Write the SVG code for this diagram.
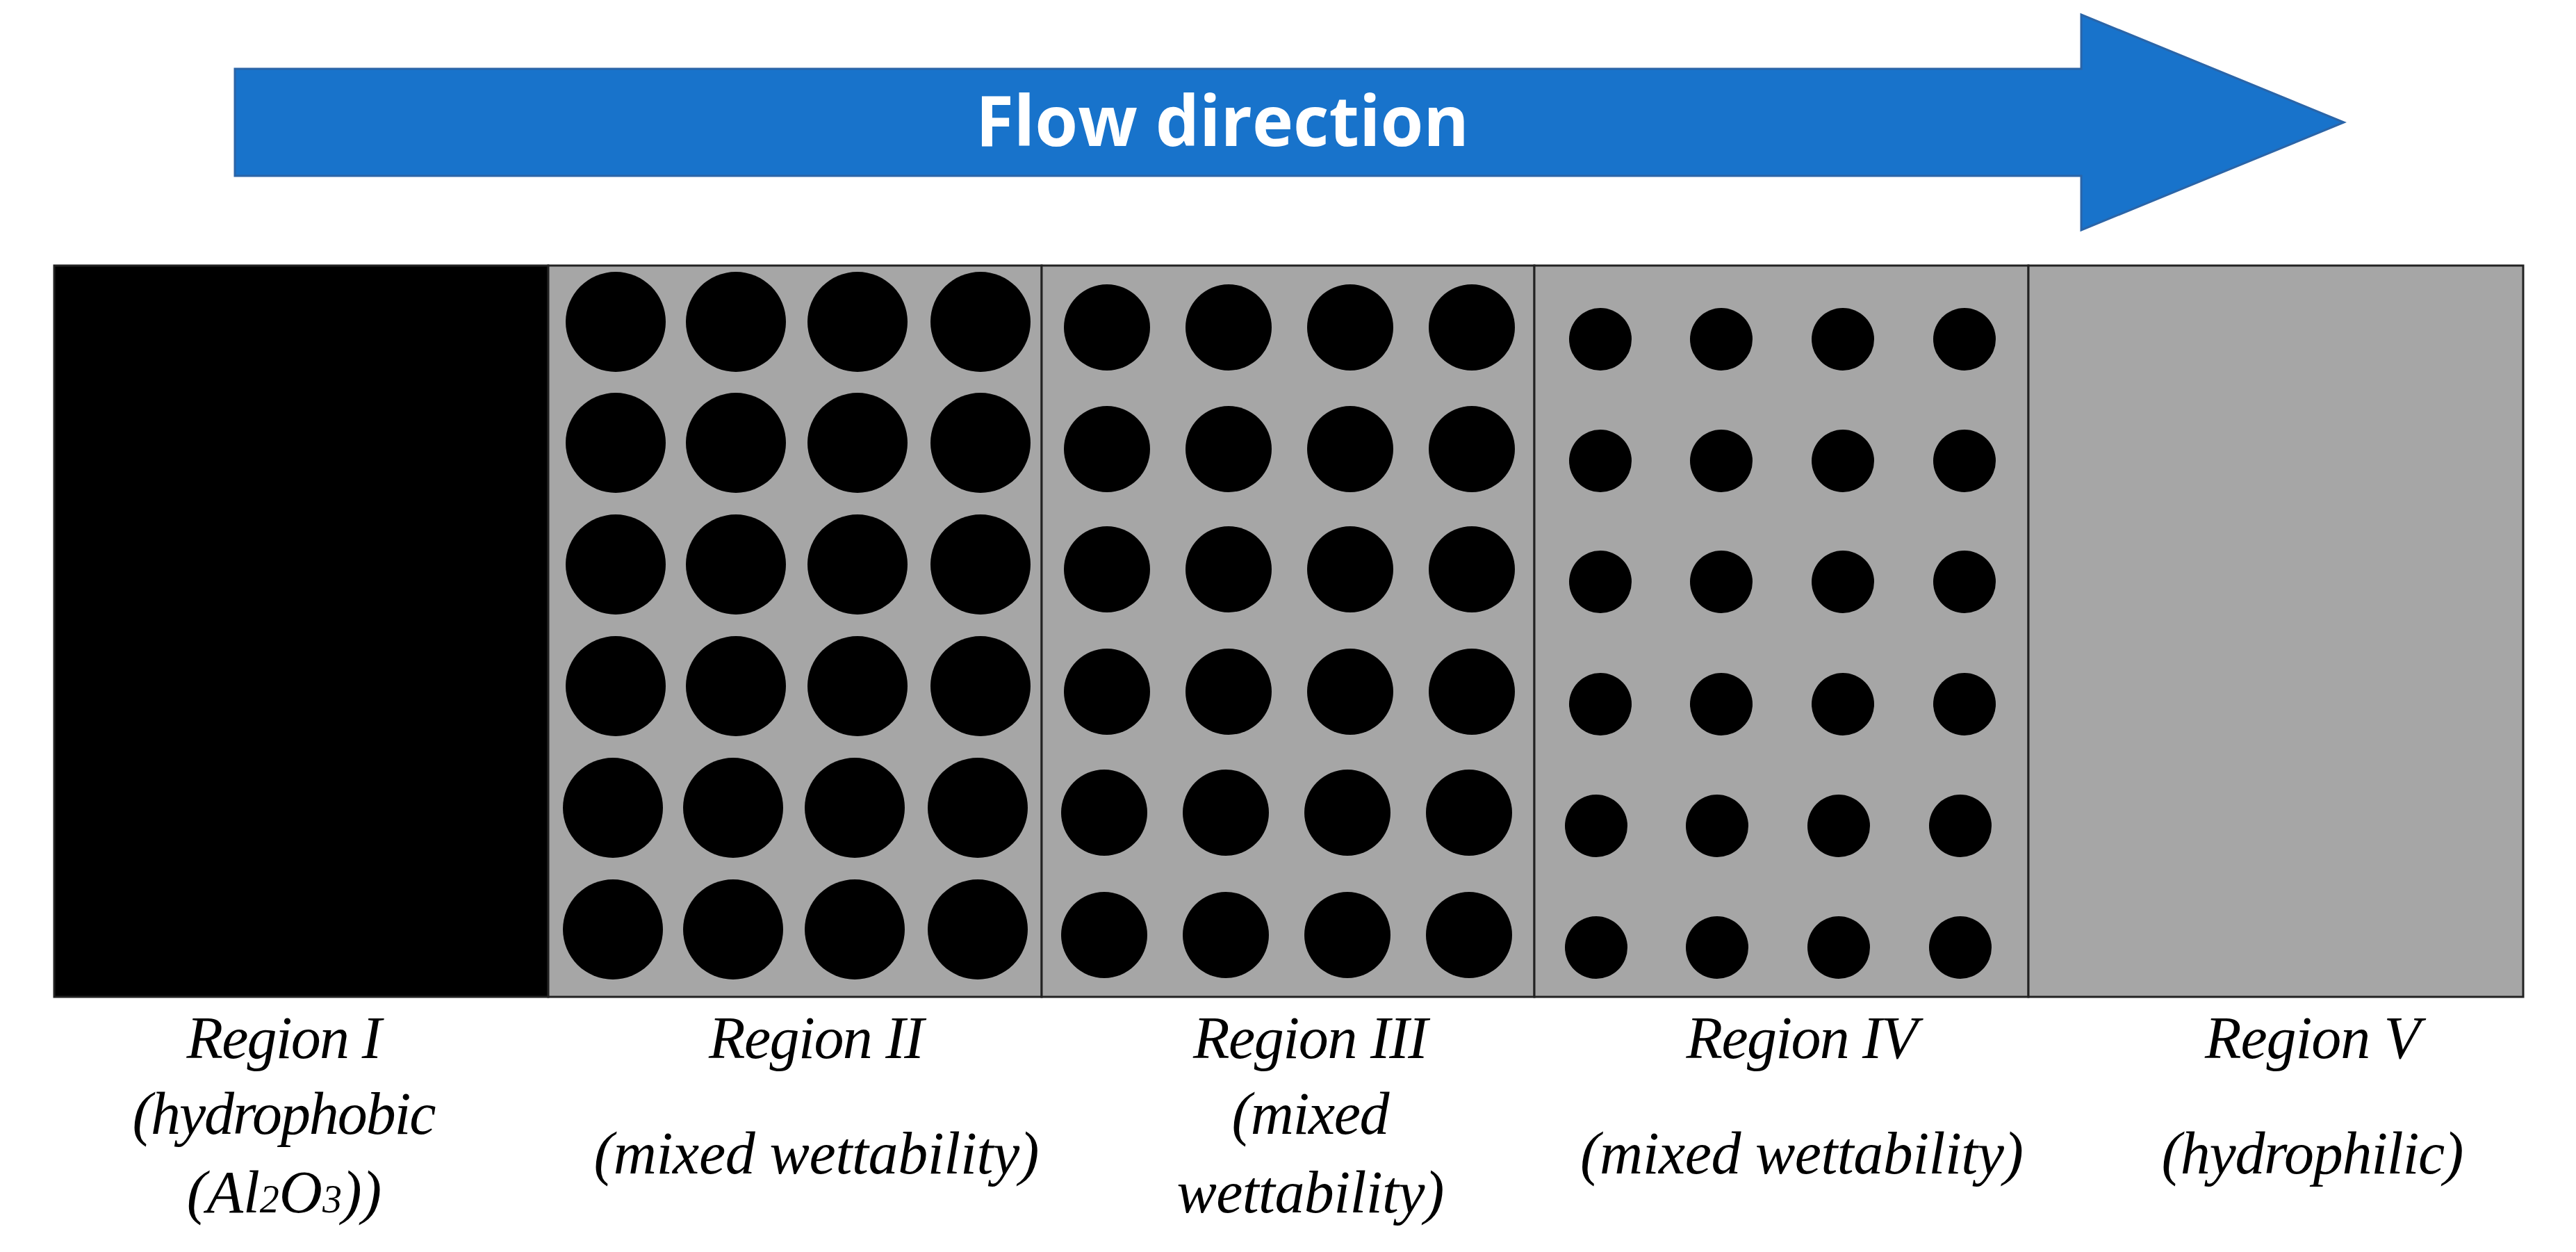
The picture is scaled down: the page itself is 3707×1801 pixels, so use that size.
<svg xmlns="http://www.w3.org/2000/svg" width="3707" height="1801" viewBox="0 0 3707 1801">
<style>
.lbl{font-family:"Liberation Serif",serif;font-style:italic;font-size:86px;fill:#000;text-anchor:middle}
.d{fill:#000}
.reg{stroke:#222;stroke-width:3}
</style>
<rect width="3707" height="1801" fill="#fff"/>
<g id="arrow">
<polygon points="338,99 2995,99 2995,21 3373,176 2995,331 2995,253 338,253" fill="#1873cb" stroke="#2b65a8" stroke-width="3"/>
<text x="1759" y="210" font-family="Open Sans,sans-serif" font-weight="bold" font-size="100" fill="#fff" text-anchor="middle">Flow direction</text>
</g>
<g id="region1"><rect class="reg" x="78" y="382" width="711" height="1052" fill="#000"/></g>
<g id="region2"><rect class="reg" x="789" y="382" width="710" height="1052" fill="#a6a6a6"/>
<g class="d">
<circle cx="886" cy="463" r="72"/><circle cx="1059" cy="463" r="72"/><circle cx="1234" cy="463" r="72"/><circle cx="1411" cy="463" r="72"/>
<circle cx="886" cy="637" r="72"/><circle cx="1059" cy="637" r="72"/><circle cx="1234" cy="637" r="72"/><circle cx="1411" cy="637" r="72"/>
<circle cx="886" cy="812" r="72"/><circle cx="1059" cy="812" r="72"/><circle cx="1234" cy="812" r="72"/><circle cx="1411" cy="812" r="72"/>
<circle cx="886" cy="987" r="72"/><circle cx="1059" cy="987" r="72"/><circle cx="1234" cy="987" r="72"/><circle cx="1411" cy="987" r="72"/>
<circle cx="882" cy="1162" r="72"/><circle cx="1055" cy="1162" r="72"/><circle cx="1230" cy="1162" r="72"/><circle cx="1407" cy="1162" r="72"/>
<circle cx="882" cy="1337" r="72"/><circle cx="1055" cy="1337" r="72"/><circle cx="1230" cy="1337" r="72"/><circle cx="1407" cy="1337" r="72"/>
</g></g>
<g id="region3"><rect class="reg" x="1499" y="382" width="709" height="1052" fill="#a6a6a6"/>
<g class="d">
<circle cx="1593" cy="471" r="62"/><circle cx="1768" cy="471" r="62"/><circle cx="1943" cy="471" r="62"/><circle cx="2118" cy="471" r="62"/>
<circle cx="1593" cy="646" r="62"/><circle cx="1768" cy="646" r="62"/><circle cx="1943" cy="646" r="62"/><circle cx="2118" cy="646" r="62"/>
<circle cx="1593" cy="819" r="62"/><circle cx="1768" cy="819" r="62"/><circle cx="1943" cy="819" r="62"/><circle cx="2118" cy="819" r="62"/>
<circle cx="1593" cy="995" r="62"/><circle cx="1768" cy="995" r="62"/><circle cx="1943" cy="995" r="62"/><circle cx="2118" cy="995" r="62"/>
<circle cx="1589" cy="1169" r="62"/><circle cx="1764" cy="1169" r="62"/><circle cx="1939" cy="1169" r="62"/><circle cx="2114" cy="1169" r="62"/>
<circle cx="1589" cy="1345" r="62"/><circle cx="1764" cy="1345" r="62"/><circle cx="1939" cy="1345" r="62"/><circle cx="2114" cy="1345" r="62"/>
</g></g>
<g id="region4"><rect class="reg" x="2208" y="382" width="711" height="1052" fill="#a6a6a6"/>
<g class="d">
<circle cx="2303" cy="488" r="45"/><circle cx="2477" cy="488" r="45"/><circle cx="2652" cy="488" r="45"/><circle cx="2827" cy="488" r="45"/>
<circle cx="2303" cy="663" r="45"/><circle cx="2477" cy="663" r="45"/><circle cx="2652" cy="663" r="45"/><circle cx="2827" cy="663" r="45"/>
<circle cx="2303" cy="837" r="45"/><circle cx="2477" cy="837" r="45"/><circle cx="2652" cy="837" r="45"/><circle cx="2827" cy="837" r="45"/>
<circle cx="2303" cy="1013" r="45"/><circle cx="2477" cy="1013" r="45"/><circle cx="2652" cy="1013" r="45"/><circle cx="2827" cy="1013" r="45"/>
<circle cx="2297" cy="1188" r="45"/><circle cx="2471" cy="1188" r="45"/><circle cx="2646" cy="1188" r="45"/><circle cx="2821" cy="1188" r="45"/>
<circle cx="2297" cy="1363" r="45"/><circle cx="2471" cy="1363" r="45"/><circle cx="2646" cy="1363" r="45"/><circle cx="2821" cy="1363" r="45"/>
</g></g>
<g id="region5"><rect class="reg" x="2919" y="382" width="712" height="1052" fill="#a6a6a6"/></g>
<g id="labels">
<text class="lbl" x="409" y="1522" textLength="281">Region I</text>
<text class="lbl" x="409" y="1631" textLength="437">(hydrophobic</text>
<text class="lbl" x="409" y="1744">(Al<tspan font-size="56">2</tspan>O<tspan font-size="56">3</tspan>))</text>
<text class="lbl" x="1175" y="1522" textLength="310">Region II</text>
<text class="lbl" x="1175" y="1688" textLength="641">(mixed wettability)</text>
<text class="lbl" x="1886" y="1522" textLength="338">Region III</text>
<text class="lbl" x="1886" y="1631" textLength="227">(mixed</text>
<text class="lbl" x="1886" y="1744" textLength="385">wettability)</text>
<text class="lbl" x="2593" y="1522" textLength="333">Region IV</text>
<text class="lbl" x="2593" y="1688" textLength="638">(mixed wettability)</text>
<text class="lbl" x="3328" y="1522" textLength="310">Region V</text>
<text class="lbl" x="3328" y="1688" textLength="435">(hydrophilic)</text>
</g>
</svg>
